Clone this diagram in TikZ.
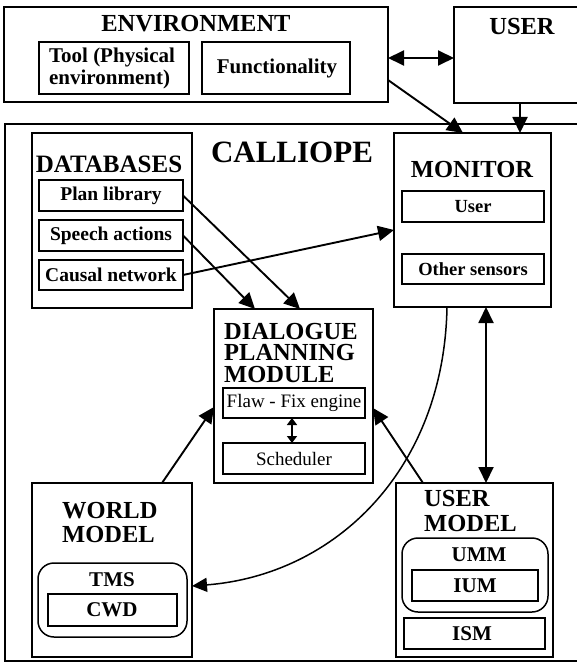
\documentclass[tikz,border=0pt]{standalone}
\usepackage{fontspec}
\setmainfont{Liberation Serif}
\usetikzlibrary{arrows.meta}
\begin{document}
\begin{tikzpicture}[x=1pt,y=-1pt,
  box/.style 2 args={draw, line width=1.8pt, inner sep=0pt, outer sep=0pt,
    anchor=north west, minimum width=#1, minimum height=#2},
  rbox/.style 2 args={box={#1}{#2}, rounded corners=16pt, line width=1.5pt},
  bigtitle/.style={inner sep=0pt, font=\fontsize{24.5}{22}\selectfont\bfseries},
  lbl/.style={inner sep=0pt, font=\fontsize{19.5}{21}\selectfont\bfseries},
  slbl/.style={inner sep=0pt, font=\fontsize{18.5}{20}\selectfont\bfseries},
  rlbl/.style={inner sep=0pt, font=\fontsize{19}{21}\selectfont},
  tipbig/.tip={Triangle[length=16pt,width=15pt]},
  arr/.style={line width=1.9pt, -tipbig},
  darr/.style={line width=1.9pt, tipbig-tipbig},
  sdarr/.style={line width=1.6pt, {Triangle[length=7pt,width=10pt]}-{Triangle[length=7pt,width=10pt]}}
]
\useasboundingbox (0,0) rectangle (576,663);

% ENVIRONMENT
\node[box={384}{95}] (env) at (4,7) {};
\node[bigtitle] (envt) at (196,24) {ENVIRONMENT};
\node[box={150}{52}] (tool) at (39,42) {};
\node[inner sep=0pt, align=left, font=\fontsize{21}{22}\selectfont\bfseries] (toolt) at (112,68) {Tool (Physical\\environment)};
\node[box={148}{52}] (func) at (202,42) {};
\node[inner sep=0pt, font=\fontsize{21}{22}\selectfont\bfseries] (funct) at (277,68) {Functionality};

% USER
\node[box={124}{96}] (user) at (454,7) {};
\node[bigtitle] (usert) at (522,27) {USER};

% CALLIOPE
\node[box={573}{537}] (cal) at (5,124) {};
\node[inner sep=0pt, font=\fontsize{31}{33}\selectfont\bfseries] (calt) at (292,152) {CALLIOPE};

% DATABASES
\node[box={160}{175}] (db) at (32,133) {};
\node[inner sep=0pt, font=\fontsize{25}{27}\selectfont\bfseries] (dbt) at (109,164) {DATABASES};
\node[box={144}{31}] (plan) at (39,180) {};
\node[lbl] (plant) at (111,195.5) {Plan library};
\node[box={144}{31}] (speech) at (39,220) {};
\node[lbl] (speecht) at (111,235.5) {Speech actions};
\node[box={144}{30}] (causal) at (39,260) {};
\node[lbl] (causalt) at (111,275) {Causal network};

% MONITOR
\node[box={157}{174}] (mon) at (394,133) {};
\node[bigtitle] (mont) at (472,170) {MONITOR};
\node[box={142}{31}] (muser) at (402,191) {};
\node[slbl] (musert) at (473,206.5) {User};
\node[box={142}{30}] (msens) at (402,254) {};
\node[slbl] (msenst) at (473,269) {Other sensors};

% DIALOGUE PLANNING MODULE
\node[box={159}{174}] (dpm) at (214,309) {};
\node[bigtitle, align=left, anchor=north west, font=\fontsize{24.5}{21.5}\selectfont\bfseries] (dpmt) at (224,323) {DIALOGUE\\PLANNING\\MODULE};
\node[box={142}{30}] (flaw) at (223,388) {};
\node[rlbl] (flawt) at (294,403) {Flaw - Fix engine};
\node[box={142}{31}] (sched) at (223,443) {};
\node[rlbl] (schedt) at (294,458.5) {Scheduler};

% WORLD MODEL
\node[box={160}{174}] (world) at (32,483) {};
\node[bigtitle, align=left, anchor=north west, font=\fontsize{24.5}{24.5}\selectfont\bfseries] (worldt) at (62,502) {WORLD\\MODEL};
\node[rbox={149}{74}] (tms) at (38,563) {};
\node[inner sep=0pt, font=\fontsize{21}{22}\selectfont\bfseries] (tmst) at (112,580) {TMS};
\node[box={129}{32}] (cwd) at (48,594) {};
\node[inner sep=0pt, font=\fontsize{21}{22}\selectfont\bfseries] (cwdt) at (112,610) {CWD};

% USER MODEL
\node[box={157}{174}] (um) at (396,483) {};
\node[bigtitle, align=left, anchor=north west, font=\fontsize{24.5}{25}\selectfont\bfseries] (umt) at (424,490) {USER\\MODEL};
\node[rbox={146}{74}] (umm) at (402,538) {};
\node[inner sep=0pt, font=\fontsize{21}{22}\selectfont\bfseries] (ummt) at (479,555) {UMM};
\node[box={126}{31}] (ium) at (412,570) {};
\node[inner sep=0pt, font=\fontsize{21}{22}\selectfont\bfseries] (iumt) at (475,585.5) {IUM};
\node[box={141}{31}] (ism) at (404,618) {};
\node[inner sep=0pt, font=\fontsize{21}{22}\selectfont\bfseries] (ismt) at (472,633.5) {ISM};

% connectors
\draw[darr] ([yshift=-3.5pt]env.east) -- ([yshift=-3pt]user.west);
\draw[arr] ([yshift=22pt]env.south east) -- ([xshift=69pt]mon.north west);
\draw[arr] ([xshift=4pt]user.south) -- ([xshift=4pt]user.south |- mon.north);
\draw[arr] (plan.east) -- ([xshift=6.5pt]dpm.north);
\draw[arr] (speech.east) -- ([xshift=-38.5pt]dpm.north);
\draw[arr] (causal.east) -- ([yshift=-10pt]mon.west);
\draw[arr] ([xshift=50pt]world.north) -- ([yshift=-11pt]dpm.west);
\draw[arr] ([xshift=-51.5pt]um.north) -- ([yshift=-12pt]dpm.east);
\draw[darr] ([xshift=13.5pt]mon.south) -- ([xshift=11.5pt]um.north);
\draw[sdarr] ([xshift=-2pt]flaw.south) -- ([xshift=-2pt]sched.north);
\draw[line width=1.5pt, -{Triangle[length=15pt,width=14pt]}] ([xshift=-25.5pt]mon.south) .. controls (444,470) and (335,575) .. ([yshift=-16pt]world.east);
\end{tikzpicture}
\end{document}
